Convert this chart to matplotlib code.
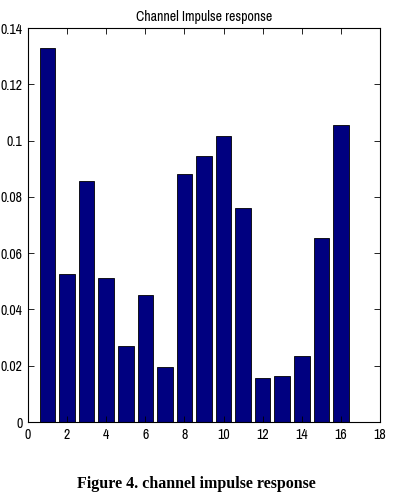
import matplotlib
matplotlib.use("Agg")
import matplotlib.pyplot as plt
from matplotlib import font_manager

# channel taps
taps = list(range(1, 17))
gains = [0.133, 0.0525, 0.0855, 0.051, 0.027, 0.045, 0.0195, 0.088,
         0.0945, 0.1015, 0.076, 0.0155, 0.0165, 0.0235, 0.0655, 0.1055]
xticks = [0, 2, 4, 6, 8, 10, 12, 14, 16, 18]
yticks = [0, 0.02, 0.04, 0.06, 0.08, 0.1, 0.12, 0.14]
ytick_labels = ["0", "0.02", "0.04", "0.06", "0.08", "0.1", "0.12", "0.14"]

names = {f.name for f in font_manager.fontManager.ttflist}
narrow = "Liberation Sans"
for cand in ["Liberation Sans Narrow", "Archivo Narrow"]:
    if cand in names:
        narrow = cand
        break

fig = plt.figure(figsize=(4.08, 4.92), dpi=100)
ax = fig.add_axes([28 / 408, 1 - 422 / 492, 352 / 408, 394 / 492])

ax.bar(taps, gains, width=0.8, color="#000080", edgecolor="black", linewidth=0.6)

ax.set_xlim(0, 18)
ax.set_ylim(0, 0.14)
ax.set_xticks(xticks)
ax.set_yticks(yticks)
ax.set_yticklabels(ytick_labels)
ax.tick_params(direction="in", top=True, right=True, length=4, width=0.6,
               labelsize=10, pad=4)
for lbl in ax.get_xticklabels() + ax.get_yticklabels():
    lbl.set_fontfamily(narrow)
for s in ax.spines.values():
    s.set_linewidth(0.8)

ax.set_title("Channel Impulse response", fontsize=10, family=narrow, pad=5)

fig.text(196 / 408, 1 - 488 / 492, "Figure 4. channel impulse response",
         ha="center", va="baseline", fontsize=11.5, fontweight="bold",
         family="Liberation Serif")

fig.savefig("out.png", dpi=100)
